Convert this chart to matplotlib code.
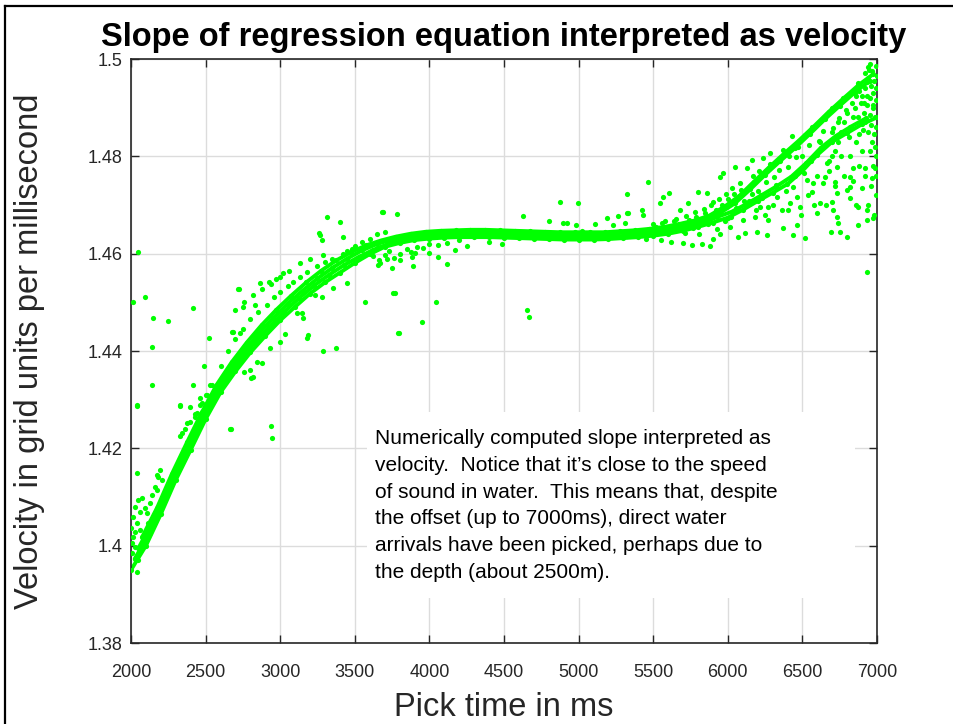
import matplotlib
matplotlib.use("Agg")
import matplotlib.pyplot as plt
from matplotlib.lines import Line2D
from matplotlib.patches import Rectangle

plt.rcParams['font.family'] = ['Liberation Sans', 'DejaVu Sans']

# Main band of picked slopes, four interleaved rows across the band
band_a_t = [2000, 2100, 2200, 2300, 2400, 2500, 2600, 2700, 2800, 2900,
            3000, 3100, 3200, 3300, 3400, 3500, 3600, 3700, 3800, 3900,
            4000, 4100, 4200, 4300, 4400, 4500, 4600, 4700, 4800, 4900,
            5000, 5100, 5200, 5300, 5400, 5500, 5600, 5700, 5800, 5900,
            6000, 6100, 6200, 6300, 6400, 6500, 6600, 6700, 6800, 6900, 7000]
band_a_v = [1.3950, 1.4000, 1.4065, 1.4135, 1.4197, 1.4260, 1.4315, 1.4358, 1.4397, 1.4431,
            1.4463, 1.4491, 1.4518, 1.4541, 1.4561, 1.4581, 1.4599, 1.4614, 1.4622, 1.4628,
            1.4631, 1.4633, 1.4634, 1.4634, 1.4634, 1.4633, 1.4632, 1.4631, 1.4630, 1.4629,
            1.4629, 1.4629, 1.4630, 1.4632, 1.4634, 1.4637, 1.4641, 1.4647, 1.4655, 1.4664,
            1.4674, 1.4690, 1.4708, 1.4725, 1.4743, 1.4770, 1.4803, 1.4830, 1.4848, 1.4866, 1.4880]

band_b_t = [2025, 2125, 2225, 2325, 2425, 2525, 2625, 2725, 2825, 2925,
            3025, 3125, 3225, 3325, 3425, 3525, 3625, 3725, 3825, 3925,
            4025, 4125, 4225, 4325, 4425, 4525, 4625, 4725, 4825, 4925,
            5025, 5125, 5225, 5325, 5425, 5525, 5625, 5725, 5825, 5925,
            6025, 6125, 6225, 6325, 6425, 6525, 6625, 6725, 6825, 6925]
band_b_v = [1.3973, 1.4026, 1.4093, 1.4161, 1.4223, 1.4284, 1.4336, 1.4378, 1.4416, 1.4449,
            1.4480, 1.4508, 1.4534, 1.4556, 1.4576, 1.4593, 1.4608, 1.4620, 1.4628, 1.4634,
            1.4637, 1.4638, 1.4639, 1.4639, 1.4639, 1.4638, 1.4637, 1.4636, 1.4635, 1.4634,
            1.4634, 1.4634, 1.4635, 1.4637, 1.4640, 1.4643, 1.4647, 1.4654, 1.4662, 1.4675,
            1.4686, 1.4702, 1.4720, 1.4738, 1.4758, 1.4786, 1.4818, 1.4842, 1.4861, 1.4878]

band_c_t = [2050, 2150, 2250, 2350, 2450, 2550, 2650, 2750, 2850, 2950,
            3050, 3150, 3250, 3350, 3450, 3550, 3650, 3750, 3850, 3950,
            4050, 4150, 4250, 4350, 4450, 4550, 4650, 4750, 4850, 4950,
            5050, 5150, 5250, 5350, 5450, 5550, 5650, 5750, 5850, 5950,
            6050, 6150, 6250, 6350, 6450, 6550, 6650, 6750, 6850, 6950]
band_c_v = [1.3995, 1.4052, 1.4120, 1.4186, 1.4248, 1.4307, 1.4356, 1.4397, 1.4434, 1.4467,
            1.4497, 1.4524, 1.4549, 1.4571, 1.4590, 1.4607, 1.4620, 1.4629, 1.4636, 1.4640,
            1.4643, 1.4644, 1.4645, 1.4645, 1.4644, 1.4643, 1.4642, 1.4641, 1.4640, 1.4640,
            1.4640, 1.4640, 1.4642, 1.4644, 1.4646, 1.4650, 1.4655, 1.4662, 1.4671, 1.4684,
            1.4704, 1.4732, 1.4762, 1.4790, 1.4817, 1.4846, 1.4876, 1.4904, 1.4931, 1.4955]

band_d_t = [2075, 2175, 2275, 2375, 2475, 2575, 2675, 2775, 2875, 2975,
            3075, 3175, 3275, 3375, 3475, 3575, 3675, 3775, 3875, 3975,
            4075, 4175, 4275, 4375, 4475, 4575, 4675, 4775, 4875, 4975,
            5075, 5175, 5275, 5375, 5475, 5575, 5675, 5775, 5875, 5975,
            6075, 6175, 6275, 6375, 6475, 6575, 6675, 6775, 6875, 6975]
band_d_v = [1.4018, 1.4078, 1.4148, 1.4212, 1.4274, 1.4331, 1.4377, 1.4417, 1.4453, 1.4485,
            1.4514, 1.4541, 1.4565, 1.4586, 1.4603, 1.4617, 1.4627, 1.4635, 1.4641, 1.4645,
            1.4647, 1.4648, 1.4649, 1.4649, 1.4648, 1.4647, 1.4646, 1.4645, 1.4644, 1.4644,
            1.4644, 1.4644, 1.4646, 1.4648, 1.4651, 1.4655, 1.4661, 1.4668, 1.4678, 1.4696,
            1.4718, 1.4748, 1.4777, 1.4805, 1.4832, 1.4861, 1.4891, 1.4919, 1.4946, 1.4969]

# Fainter parallel strands above the main band
strand_t = [2328, 2360, 2395, 2430, 2463, 2500, 2530, 2600, 2650, 2700, 2751, 2800,
            2850, 2911, 2960, 3000, 3050, 3087, 3130, 3180, 3247, 3300, 3350, 3421,
            3480, 2700, 2760, 2818, 2880, 2940, 3000, 3060, 3133, 3200, 3287]
strand_v = [1.4225, 1.4240, 1.4255, 1.4270, 1.4290, 1.4310, 1.4330, 1.4370, 1.4400, 1.4425,
            1.4445, 1.4465, 1.4480, 1.4495, 1.4510, 1.4522, 1.4533, 1.4542, 1.4552, 1.4562,
            1.4574, 1.4583, 1.4590, 1.4600, 1.4610, 1.4485, 1.4500, 1.4515, 1.4527, 1.4538,
            1.4552, 1.4565, 1.4580, 1.4590, 1.4598]

# Noisy picks at short times
early_t = [2047, 2074, 2161, 2181, 2174, 2027, 2013, 2040, 2060, 2080, 2013, 2027, 2047,
           2007, 2107, 2127, 2208, 2194, 2114, 2141, 2040, 2007, 2060, 2094, 2027, 2000,
           2074, 2040, 2174, 2141, 2040, 2328, 2395, 2442, 2429, 2375, 2342, 2663, 2476,
           2509, 2543, 2462]
early_v = [1.4094, 1.4098, 1.4121, 1.4141, 1.4114, 1.4080, 1.4059, 1.4047, 1.4032, 1.4018,
           1.4018, 1.3997, 1.3971, 1.4006, 1.4067, 1.4088, 1.4135, 1.4156, 1.4047, 1.4104,
           1.3946, 1.3985, 1.4069, 1.4077, 1.4028, 1.4036, 1.3997, 1.4149, 1.4145, 1.4330,
           1.4289, 1.4289, 1.4285, 1.4273, 1.4264, 1.4252, 1.4232, 1.4240, 1.4293, 1.4310,
           1.4330, 1.4303]

# Scattered outliers around the curve
outlier_t = [2047, 2013, 2094, 2147, 2248, 2416, 2717, 3314, 3401, 3682, 3267, 3280, 3568,
             3187, 3153, 3113, 2684, 2141, 2040, 2489, 2416, 2328, 2523, 2670, 2938, 2945,
             3287, 3374, 3180, 3032, 2998, 2804, 2757, 2844, 2798, 2818, 2878, 2931, 3146,
             3233, 3280, 3354, 3448, 3655, 3756, 3790, 3260, 3421, 3019, 2972, 2925, 2865,
             2724, 2831, 2751, 2677, 2731,
             3689, 3783, 3769, 4044, 3950, 3796, 4654, 4667, 4118, 3890, 3749, 3716, 3803,
             3883, 3903, 3997, 4058, 4172, 4252, 4400, 4487, 3669, 4627, 4875, 4996, 4801,
             4895, 4922, 4983, 5190, 5264, 5331, 5110, 5230, 5311, 5023]
outlier_v = [1.4604, 1.4501, 1.4511, 1.4468, 1.4462, 1.4488, 1.4527, 1.4675, 1.4665, 1.4686,
             1.4638, 1.4628, 1.4501, 1.4433, 1.4468, 1.4478, 1.4439, 1.4408, 1.4287, 1.4369,
             1.4330, 1.4287, 1.4427, 1.4240, 1.4246, 1.4221, 1.4400, 1.4406, 1.4427, 1.4435,
             1.4419, 1.4345, 1.4357, 1.4377, 1.4361, 1.4347, 1.4375, 1.4406, 1.4478, 1.4515,
             1.4511, 1.4530, 1.4540, 1.4577, 1.4519, 1.4437, 1.4643, 1.4634, 1.4560, 1.4548,
             1.4542, 1.4540, 1.4527, 1.4495, 1.4490, 1.4439, 1.4437,
             1.4686, 1.4682, 1.4519, 1.4501, 1.4460, 1.4437, 1.4484, 1.4470, 1.4579, 1.4575,
             1.4571, 1.4589, 1.4587, 1.4593, 1.4601, 1.4601, 1.4593, 1.4608, 1.4616, 1.4624,
             1.4620, 1.4581, 1.4678, 1.4706, 1.4704, 1.4667, 1.4663, 1.4663, 1.4659, 1.4673,
             1.4678, 1.4684, 1.4661, 1.4659, 1.4663, 1.4647]

# Spread near the start of the plateau
knee_t = [3620, 3660, 3700, 3730, 3760, 3800, 3850, 3880, 3920, 3960, 4000, 4060, 4120,
          4200, 3650, 3700, 3600, 3550, 3500, 3450]
knee_v = [1.4595, 1.4588, 1.4598, 1.4605, 1.4592, 1.4600, 1.4610, 1.4604, 1.4614, 1.4612,
          1.4620, 1.4618, 1.4622, 1.4628, 1.4640, 1.4645, 1.4630, 1.4625, 1.4615, 1.4605]

# Widening scatter at long pick times
late_t = [5465, 5606, 5324, 5425, 5432, 5324, 5566, 5546, 5680, 5733, 5800, 5860, 5901,
          5948, 5968, 6048, 6128, 6162, 6236, 6282, 6370, 6430, 6517, 6564, 6698, 6014,
          6068, 6115, 6195, 6262, 6370, 6437, 6463, 6517, 6403, 6484, 6598, 6618, 6564,
          6698, 6705, 6731, 6738, 6691, 6752, 6799, 6731, 6718, 6819, 6819, 6873, 6933,
          6873, 6933, 6973, 6900, 6966, 6986, 6919, 6933, 6940, 6919, 6933, 6873, 6839,
          6819, 6731, 6665, 6651, 6437, 6463, 6330, 6269, 6215, 6182, 6269, 6531, 6571,
          5450, 5550, 5620, 5700, 5760, 5830, 5880, 5900, 5950, 5500, 5580, 5650, 5720,
          5780, 5840, 5890, 5940, 5990, 6030, 6080,
          6055, 6110, 6160, 6205, 6255, 6310, 6345, 6405, 6455, 6495, 6545, 6610, 6640,
          6705, 6745, 6790,
          5520, 5560, 5610, 5640, 5690, 5710, 5740, 5770, 5790, 5810, 5850, 5870, 5920,
          5930, 5960, 5980, 6000, 6020, 6040, 6060, 6090, 6100, 6140, 6170, 6190, 6210,
          6230, 6250, 6280, 6300, 6320, 6340, 6360, 6390, 6410, 6420, 6450, 6470, 6490,
          6510, 6540, 6560, 6580, 6600, 6620, 6640, 6660, 6680, 6700, 6720, 6740, 6760,
          6780, 6800, 6820, 6840, 6860, 6880, 6900, 6920, 6940, 6960, 6980, 6990, 6995]
late_v = [1.4747, 1.4725, 1.4723, 1.4690, 1.4680, 1.4684, 1.4717, 1.4704, 1.4690, 1.4704,
          1.4727, 1.4725, 1.4706, 1.4758, 1.4766, 1.4778, 1.4776, 1.4793, 1.4797, 1.4807,
          1.4813, 1.4842, 1.4844, 1.4860, 1.4899, 1.4655, 1.4634, 1.4643, 1.4645, 1.4638,
          1.4653, 1.4638, 1.4659, 1.4632, 1.4690, 1.4696, 1.4684, 1.4704, 1.4727, 1.4706,
          1.4690, 1.4675, 1.4663, 1.4645, 1.4645, 1.4634, 1.4725, 1.4747, 1.4737, 1.4714,
          1.4696, 1.4690, 1.4659, 1.4669, 1.4673, 1.4735, 1.4755, 1.4776, 1.4776, 1.4562,
          1.4984, 1.4971, 1.4953, 1.4951, 1.4776, 1.4758, 1.4778, 1.4786, 1.4758, 1.4737,
          1.4717, 1.4717, 1.4696, 1.4696, 1.4675, 1.4669, 1.4751, 1.4745,
          1.4630, 1.4628, 1.4625, 1.4622, 1.4618, 1.4620, 1.4615, 1.4630, 1.4640, 1.4660,
          1.4668, 1.4672, 1.4678, 1.4685, 1.4692, 1.4700, 1.4712, 1.4722, 1.4735, 1.4745,
          1.4693, 1.4708, 1.4723, 1.4728, 1.4748, 1.4757, 1.4772, 1.4779, 1.4798, 1.4801,
          1.4823, 1.4832, 1.4853, 1.4858, 1.4879, 1.4896,
          1.4655, 1.4662, 1.4650, 1.4667, 1.4660, 1.4642, 1.4670, 1.4652, 1.4675, 1.4640,
          1.4683, 1.4660, 1.4690, 1.4650, 1.4700, 1.4668, 1.4712, 1.4675, 1.4722, 1.4690,
          1.4730, 1.4670, 1.4708, 1.4760, 1.4690, 1.4770, 1.4715, 1.4680, 1.4785, 1.4700,
          1.4742, 1.4795, 1.4690, 1.4728, 1.4800, 1.4705, 1.4760, 1.4820, 1.4680, 1.4765,
          1.4720, 1.4790, 1.4700, 1.4760, 1.4830, 1.4745, 1.4700, 1.4770, 1.4850, 1.4740,
          1.4870, 1.4800, 1.4760, 1.4730, 1.4800, 1.4750, 1.4700, 1.4780, 1.4810, 1.4760,
          1.4700, 1.4740, 1.4680, 1.4760, 1.4720]

# Dense cloud at the far end
end_t = [6850, 6870, 6890, 6900, 6910, 6920, 6930, 6940, 6950, 6955, 6960, 6965, 6970,
         6975, 6980, 6985, 6990, 6995, 6998, 6990, 6980, 6960, 6940, 6920, 6905, 6880,
         6860, 6840, 6820, 6800, 6780, 6760, 6740, 6720, 6700, 6680, 6860, 6880, 6830,
         6810, 6950, 6945, 6990, 6935, 6975, 6915, 6895, 6965, 6985, 6995, 6975, 6955]
end_v = [1.4900, 1.4880, 1.4910, 1.4925, 1.4890, 1.4940, 1.4905, 1.4960, 1.4920, 1.4885,
         1.4945, 1.4975, 1.4900, 1.4930, 1.4955, 1.4880, 1.4915, 1.4940, 1.4965, 1.4860,
         1.4845, 1.4865, 1.4850, 1.4870, 1.4855, 1.4845, 1.4830, 1.4880, 1.4860, 1.4890,
         1.4870, 1.4850, 1.4830, 1.4810, 1.4800, 1.4790, 1.4925, 1.4935, 1.4910, 1.4840,
         1.4990, 1.4978, 1.4985, 1.4925, 1.4905, 1.4910, 1.4870, 1.4830, 1.4820, 1.4800,
         1.4780, 1.4810]

x_ticks = [2000, 2500, 3000, 3500, 4000, 4500, 5000, 5500, 6000, 6500, 7000]
y_ticks = [1.38, 1.40, 1.42, 1.44, 1.46, 1.48, 1.50]
y_tick_labels = ['1.38', '1.4', '1.42', '1.44', '1.46', '1.48', '1.5']

note = ("Numerically computed slope interpreted as\n"
        "velocity.  Notice that it\u2019s close to the speed\n"
        "of sound in water.  This means that, despite\n"
        "the offset (up to 7000ms), direct water\n"
        "arrivals have been picked, perhaps due to\n"
        "the depth (about 2500m).")

GREEN = '#00ff00'
W, H = 954, 724
fig = plt.figure(figsize=(W / 100, H / 100), dpi=100)
ax = fig.add_axes([131 / W, (H - 643) / H, 746 / W, 584 / H])

rows = [(band_a_t, band_a_v), (band_b_t, band_b_v),
        (band_c_t, band_c_v), (band_d_t, band_d_v)]
# the rows are packed so tightly that they read as a solid band
for t, v in rows:
    ax.plot(t, v, color=GREEN, linewidth=2.8, solid_capstyle='round', zorder=2)

for t, v in rows + [(strand_t, strand_v), (early_t, early_v), (outlier_t, outlier_v),
                    (knee_t, knee_v), (late_t, late_v), (end_t, end_v)]:
    ax.scatter(t, v, s=14, color=GREEN, linewidths=0, zorder=3)

ax.set_xlim(2000, 7000)
ax.set_ylim(1.38, 1.50)
ax.set_xticks(x_ticks)
ax.set_xticklabels([str(t) for t in x_ticks])
ax.set_yticks(y_ticks)
ax.set_yticklabels(y_tick_labels)
ax.grid(True, color='#dcdcdc', linewidth=1.0, zorder=0)
ax.set_axisbelow(True)
ax.tick_params(direction='in', length=6, width=1, color='#262626',
               top=True, right=True, labelsize=13, labelcolor='#262626')
ax.tick_params(axis='x', pad=15)
ax.tick_params(axis='y', pad=6)
for sp in ax.spines.values():
    sp.set_color('#262626')
    sp.set_linewidth(1.2)

ax.set_title('Slope of regression equation interpreted as velocity',
             fontsize=23.5, fontweight='bold', y=1 + 13 / 584, pad=0)
ax.set_xlabel('Pick time in ms', fontsize=23.5, color='#262626')
ax.xaxis.set_label_coords(0.5, -49 / 584)
ax.xaxis.label.set_va('top')
ax.set_ylabel('Velocity in grid units per millisecond', fontsize=23.5,
              color='#262626')
ax.yaxis.set_label_coords(-86 / 746, 0.5)

# white note box over the grid
ax.add_patch(Rectangle(((367 - 131) / 746, (643 - 598) / 584),
                       (855 - 367) / 746, (598 - 412) / 584,
                       transform=ax.transAxes, facecolor='white',
                       edgecolor='none', zorder=4))
ax.text((375 - 131) / 746, (643 - 429) / 584, note, transform=ax.transAxes,
        ha='left', va='top', fontsize=15, linespacing=1.52, zorder=5)

# frame around the figure
fig.add_artist(Line2D([5 / W, 5 / W], [0, 1 - 6 / H], color='black',
                      linewidth=1.6, transform=fig.transFigure))
fig.add_artist(Line2D([5 / W, 1], [1 - 6 / H, 1 - 6 / H], color='black',
                      linewidth=1.6, transform=fig.transFigure))

fig.savefig('out.png', dpi=100)
